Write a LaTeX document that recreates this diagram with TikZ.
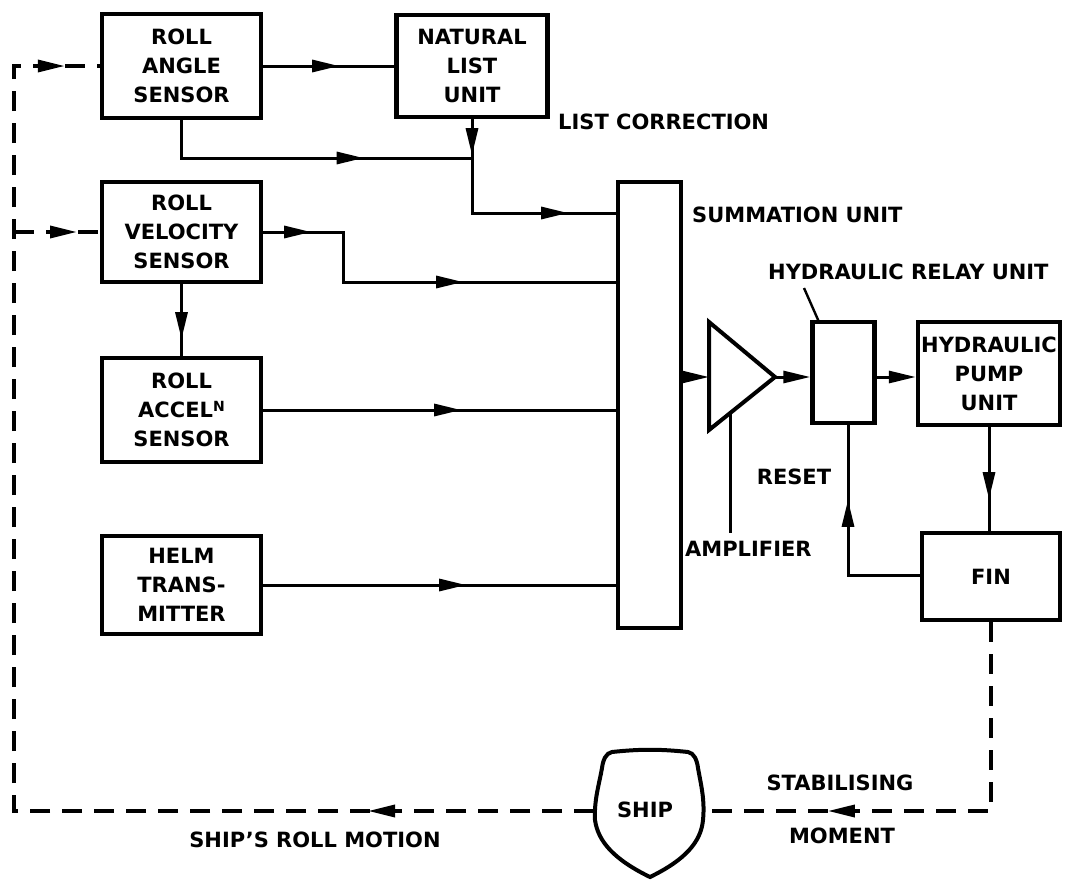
\documentclass[tikz,border=0pt]{standalone}
\usepackage{fontspec}
\setmainfont{DejaVu Sans}
\usetikzlibrary{arrows.meta,decorations.markings}
\tikzset{
  blk/.style={draw,line width=4.4pt,align=center,inner sep=0pt,font=\fontsize{21}{29}\selectfont\bfseries},
  conn/.style={line width=3pt},
  dsh/.style={line width=3.4pt,dash pattern=on 20pt off 12pt},
  lbl/.style={inner sep=0pt,font=\fontsize{21}{25}\selectfont\bfseries},
  midarr/.style={postaction={decorate,decoration={markings,mark=at position #1 with {\arrow{Triangle[length=27pt,width=12pt]}}}}},
  endarr/.style={-{Triangle[length=27pt,width=12pt]}},
}
\begin{document}
\begin{tikzpicture}[x=1pt,y=-1pt]
\useasboundingbox (0,0) rectangle (1082,879);
% blocks
\node[blk,minimum width=159pt,minimum height=104pt] (ras) at (181.5,66) {ROLL\\ANGLE\\SENSOR};
\node[blk,minimum width=151pt,minimum height=102pt] (nlu) at (472,66) {NATURAL\\LIST\\UNIT};
\node[blk,minimum width=159pt,minimum height=100pt] (rvs) at (181.5,232) {ROLL\\VELOCITY\\SENSOR};
\node[blk,minimum width=159pt,minimum height=104pt] (rac) at (181.5,410) {ROLL\\ACCEL\raisebox{6pt}{\fontsize{14}{14}\selectfont N}\\SENSOR};
\node[blk,minimum width=159pt,minimum height=98pt] (helm) at (181.5,585) {HELM\\TRANS-\\MITTER};
\node[blk,minimum width=63pt,minimum height=446pt] (sum) at (649.5,405) {};
\node[blk,minimum width=62pt,minimum height=101pt] (relay) at (843.5,372.5) {};
\node[blk,minimum width=142pt,minimum height=103pt] (pump) at (989,373.5) {HYDRAULIC\\PUMP\\UNIT};
\node[blk,minimum width=138pt,minimum height=87pt] (fin) at (991,576.5) {FIN};
% amplifier
\coordinate (ampa) at (709,322);
\coordinate (ampb) at (709,430);
\coordinate (amptip) at (775,377);
\coordinate (ampin) at (709,377);
\draw[line width=4pt,line join=miter] (ampa) -- (amptip) -- (ampb) -- cycle;
% ship
\node[lbl] (ship) at (645,810) {SHIP};
\coordinate (shipL) at (594,811);
\coordinate (shipR) at (703,811);
\draw[line width=4pt] (612,752) .. controls (640,749) and (660,749) .. (688,752)
  .. controls (694,753) and (697,760) .. (698,768)
  .. controls (701,785) and (705,800) .. (703,820)
  .. controls (701,842) and (685,860) .. (650,877)
  .. controls (615,860) and (598,842) .. (595,820)
  .. controls (594,800) and (599,785) .. (602,768)
  .. controls (603,760) and (606,753) .. (612,752) -- cycle;
% labels
\node[lbl,anchor=west] (lc) at (558,122) {LIST CORRECTION};
\node[lbl,anchor=west] (su) at (692,215) {SUMMATION UNIT};
\node[lbl,anchor=west] (hru) at (768,272) {HYDRAULIC RELAY UNIT};
\node[lbl,anchor=west] (ampl) at (685,549) {AMPLIFIER};
\node[lbl] (rst) at (794,477) {RESET};
\node[lbl] (stab) at (840,783) {STABILISING};
\node[lbl] (mom) at (842,836) {MOMENT};
\node[lbl] (srm) at (315,840) {SHIP'S ROLL MOTION};
% leaders
\coordinate (hl1) at (804,288);
\coordinate (hl2) at (819,322);
\draw[line width=2.4pt] (hl1) -- (hl2);
\coordinate (al1) at (730,413);
\coordinate (al2) at (730,533);
\draw[conn] (al1) -- (al2);
% connectors
\coordinate (jn) at (472,158);
\draw[conn,midarr=76pt] (ras.east) -- (nlu.west);
\draw[conn,midarr=220pt] (ras.south) |- (jn);
\draw[conn,midarr=36pt,midarr=190pt] (nlu.south) |- (sum.west |- 0,213);
\coordinate (vb) at (343,232);
\draw[conn,midarr=48pt,midarr=250pt] (rvs.east) -- (vb) |- (sum.west |- 0,282);
\draw[conn,midarr=55pt] (rvs.south) -- (rac.north);
\draw[conn,midarr=198pt] (rac.east) -- (rac.east -| sum.west);
\draw[conn,midarr=203pt] (helm.east) -- (helm.east -| sum.west);
\draw[conn,endarr] (sum.east |- ampin) -- (ampin);
\draw[conn,endarr] (amptip) -- (amptip -| relay.west);
\draw[conn,endarr] (relay.east |- amptip) -- (amptip -| pump.west);
\draw[conn,midarr=72pt] (pump.south) -- (pump.south |- fin.north);
\coordinate (rc) at (848,575);
\draw[conn,midarr=147pt] (fin.west |- rc) -- (rc) -- (rc |- relay.south);
% dashed feedback
\coordinate (fbc) at (fin.south |- shipR);
\draw[dsh,midarr=352pt] (fin.south) -- (fbc) -- (shipR);
\coordinate (blc) at (14,811);
\coordinate (tlc) at (14,66);
\draw[dsh,midarr=226pt,midarr=-35pt] (shipL) -- (blc) -- (tlc) -- (ras.west);
\coordinate (vbr) at (14,232);
\draw[dsh,midarr=63pt] (vbr) -- (rvs.west);
\end{tikzpicture}
\end{document}
